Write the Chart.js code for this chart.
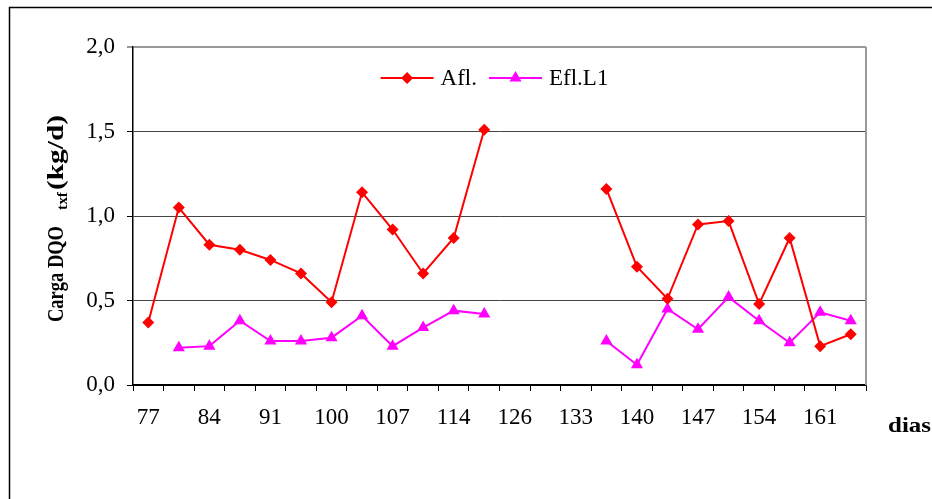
<!DOCTYPE html>
<html>
<head>
<meta charset="utf-8">
<script src="https://cdn.jsdelivr.net/npm/chart.js@4.4.1/dist/chart.umd.min.js"></script>
<style>
html, body { margin: 0; padding: 0; background: #fff; }
</style>
</head>
<body>
<canvas id="chart" width="932" height="499"></canvas>
<script>
// dias (every other category carries a label)
const dias = ['77','','84','','91','','100','','107','','114','','126','','133','','140','','147','','154','','161','']
const afl = [0.37,1.05,0.83,0.80,0.74,0.66,0.49,1.14,0.92,0.66,0.87,1.51,null,null,null,1.16,0.70,0.51,0.95,0.97,0.48,0.87,0.23,0.30]
const efl = [null,0.22,0.23,0.38,0.26,0.26,0.28,0.41,0.23,0.34,0.44,0.42,null,null,null,0.26,0.12,0.45,0.33,0.52,0.38,0.25,0.43,0.38]
const yTicks = [0, 0.5, 1.0, 1.5, 2.0]

const serif = '"Liberation Serif", "Times New Roman", serif'

function drawMarker(ctx, style, x, y, r, color) {
    ctx.fillStyle = color
    ctx.beginPath()
    if (style === 'rectRot') {
        ctx.moveTo(x, y - r); ctx.lineTo(x + r, y); ctx.lineTo(x, y + r); ctx.lineTo(x - r, y)
    } else {
        const a = 2 * Math.PI / 3
        for (let k = 0; k < 3; k++) {
            const px = x + Math.sin(k * a) * r, py = y - Math.cos(k * a) * r
            if (k === 0) ctx.moveTo(px, py); else ctx.lineTo(px, py)
        }
    }
    ctx.closePath()
    ctx.fill()
}

// text squeezed/stretched to a given length
function fitText(ctx, txt, x, y, len) {
    const w = ctx.measureText(txt).width
    ctx.save()
    ctx.translate(x, y)
    ctx.scale(len / w, 1)
    ctx.fillText(txt, 0, 0)
    ctx.restore()
}

const extras = {
    id: 'extras',
    beforeDraw(chart) {
        const ctx = chart.ctx
        ctx.save()
        ctx.strokeStyle = '#000'
        ctx.lineWidth = 1.5
        ctx.beginPath()
        ctx.moveTo(9.5, 499)
        ctx.lineTo(9.5, 7.5)
        ctx.lineTo(932, 7.5)
        ctx.stroke()
        ctx.restore()
    },
    afterDraw(chart) {
        const ctx = chart.ctx, a = chart.chartArea
        ctx.save()
        // right frame of plot
        ctx.strokeStyle = '#999'
        ctx.lineWidth = 2
        ctx.beginPath()
        ctx.moveTo(a.right, a.top)
        ctx.lineTo(a.right, a.bottom)
        ctx.stroke()

        // legend inside the plot
        ctx.font = '23px ' + serif
        ctx.textBaseline = 'middle'
        const lineLen = 53, gapText = 7, gapItem = 12
        const items = chart.data.datasets.map(d => ({ d, w: ctx.measureText(d.label).width }))
        const total = items.reduce((s, it) => s + lineLen + gapText + it.w, 0) + gapItem * (items.length - 1)
        let x = (a.left + a.right) / 2 - total / 2 - 5
        const y = a.top + 31
        items.forEach(it => {
            ctx.strokeStyle = it.d.borderColor
            ctx.lineWidth = 2
            ctx.beginPath()
            ctx.moveTo(x, y)
            ctx.lineTo(x + lineLen, y)
            ctx.stroke()
            drawMarker(ctx, it.d.pointStyle, x + lineLen / 2, y, it.d.pointRadius, it.d.borderColor)
            ctx.fillStyle = '#000'
            ctx.fillText(it.d.label, x + lineLen + gapText, y + 1)
            x += lineLen + gapText + it.w + gapItem
        })

        // y axis title with subscript
        ctx.fillStyle = '#000'
        ctx.textBaseline = 'alphabetic'
        ctx.translate(63, 322)
        ctx.rotate(-Math.PI / 2)
        ctx.font = 'bold 23px ' + serif
        fitText(ctx, 'Carga DQO', 0, 0, 96)
        ctx.font = 'bold 14px ' + serif
        fitText(ctx, 'txf', 112, 3.5, 18)
        ctx.font = 'bold 23px ' + serif
        fitText(ctx, '(kg/d)', 132, 0, 75)
        ctx.restore()

        ctx.save()
        ctx.fillStyle = '#000'
        ctx.font = 'bold 21px ' + serif
        fitText(ctx, 'dias', 888, 432, 43)
        ctx.restore()
    }
}

new Chart(document.getElementById('chart'), {
    type: 'line',
    data: {
        labels: dias,
        datasets: [{
            label: 'Afl.',
            data: afl,
            borderColor: '#FF0000',
            backgroundColor: '#FF0000',
            borderWidth: 2,
            pointStyle: 'rectRot',
            pointRadius: 6,
            pointBorderWidth: 0,
            spanGaps: false,
            tension: 0
        }, {
            label: 'Efl.L1',
            data: efl,
            borderColor: '#FF00FF',
            backgroundColor: '#FF00FF',
            borderWidth: 2,
            pointStyle: 'triangle',
            pointRadius: 7,
            pointBorderWidth: 0,
            spanGaps: false,
            tension: 0
        }]
    },
    options: {
        responsive: false,
        animation: false,
        devicePixelRatio: 1,
        layout: { padding: { left: 0, top: 47, right: 66, bottom: 0 } },
        plugins: {
            legend: { display: false },
            tooltip: { enabled: false }
        },
        scales: {
            x: {
                type: 'category',
                offset: true,
                afterFit: s => { s.height = 114 },
                grid: {
                    offset: true,
                    drawOnChartArea: false,
                    drawTicks: true,
                    tickLength: 6,
                    tickColor: '#000',
                    tickWidth: 1
                },
                border: { color: '#000', width: 1.5 },
                ticks: {
                    autoSkip: false,
                    maxRotation: 0,
                    padding: 13,
                    color: '#000',
                    font: { family: serif, size: 23 }
                }
            },
            y: {
                min: 0,
                max: 2,
                afterFit: s => { s.width = 133 },
                afterBuildTicks: s => { s.ticks = yTicks.map(v => ({ value: v })) },
                grid: {
                    color: c => c.tick.value === 2 ? '#999' : (c.tick.value === 0 ? '#000' : '#444'),
                    lineWidth: c => c.tick.value === 2 ? 2 : 1,
                    tickLength: 6,
                    tickColor: c => c.tick.value === 2 ? '#999' : '#000'
                },
                border: { color: '#000', width: 1.5 },
                ticks: {
                    padding: 12,
                    color: '#000',
                    font: { family: serif, size: 23 },
                    callback: v => v.toFixed(1).replace('.', ',')
                }
            }
        }
    },
    plugins: [extras]
})
</script>
</body>
</html>
